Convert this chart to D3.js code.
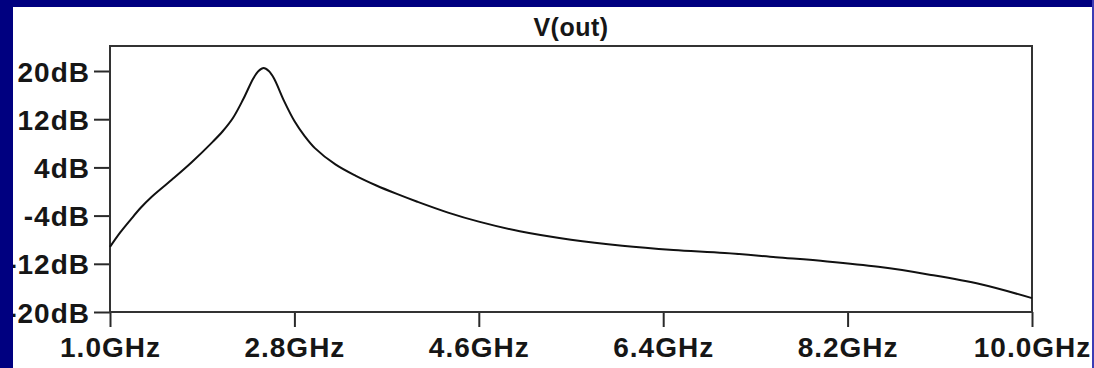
<!DOCTYPE html>
<html>
<head>
<meta charset="utf-8">
<script src="https://cdn.jsdelivr.net/npm/d3@7"></script>
<style>
  html, body { margin: 0; padding: 0; background: #000080; }
  svg { display: block; }
  text { font-family: "Liberation Sans", Arial, sans-serif; font-weight: bold; fill: #161616; }
</style>
</head>
<body>
<svg id="chart" width="1094" height="368"></svg>
<script>
// AC sweep of V(out): frequency in GHz, magnitude in dB
const freqGHz = [1.0, 1.1, 1.2, 1.3, 1.4, 1.6, 1.8, 2.0, 2.1, 2.2, 2.3, 2.4, 2.45, 2.5, 2.55, 2.6, 2.7, 2.8, 2.9, 3.0,
                 3.2, 3.4, 3.6, 3.8, 4.0, 4.3, 4.6, 5.0, 5.5, 6.0, 6.5, 7.0, 7.5, 8.0, 8.5, 9.0, 9.5, 10.0];
const magDb   = [-9.2, -6.8, -4.7, -2.7, -1.0, 1.9, 4.9, 8.2, 10.0, 12.2, 15.3, 18.8, 20.0, 20.5, 20.0, 18.8, 15.0, 11.7, 9.2, 7.2,
                 4.5, 2.6, 1.0, -0.4, -1.7, -3.5, -5.0, -6.6, -8.0, -9.0, -9.7, -10.2, -10.9, -11.6, -12.5, -13.8, -15.4, -17.7];

const xTickValues = [1.0, 2.8, 4.6, 6.4, 8.2, 10.0];
const xTickLabels = ["1.0GHz", "2.8GHz", "4.6GHz", "6.4GHz", "8.2GHz", "10.0GHz"];
const yTickValues = [20, 12, 4, -4, -12, -20];
const yTickLabels = ["20dB", "12dB", "4dB", "-4dB", "-12dB", "-20dB"];
const title = "V(out)";

const svg = d3.select("#chart");
const W = 1094, H = 368;

// window panel
svg.append("rect").attr("x", 0).attr("y", 0).attr("width", W).attr("height", H).attr("fill", "#000080");
svg.append("rect").attr("x", 13).attr("y", 7).attr("width", 1079).attr("height", H - 7).attr("fill", "#ffffff");

const plot = { left: 110, right: 1032, top: 46, bottom: 312 };

const x = d3.scaleLinear().domain([1.0, 10.0]).range([plot.left, plot.right]);
const y = d3.scaleLinear().domain([-20, 24.15]).range([plot.bottom, plot.top]);

// axes
const xAxis = d3.axisBottom(x)
  .tickValues(xTickValues)
  .tickFormat((d, i) => xTickLabels[i])
  .tickSize(15);
const yAxis = d3.axisLeft(y)
  .tickValues(yTickValues)
  .tickFormat((d, i) => yTickLabels[i])
  .tickSize(16).tickPadding(4);

const gx = svg.append("g").attr("transform", `translate(0,${plot.bottom})`).call(xAxis);
const gy = svg.append("g").attr("transform", `translate(${plot.left},0)`).call(yAxis);

[gx, gy].forEach(g => {
  g.select(".domain").remove();
  g.selectAll(".tick line").attr("stroke", "#2a2a2a").attr("stroke-width", 2);
  g.selectAll(".tick text")
    .attr("fill", "#161616")
    .style("font-family", '"Liberation Sans", Arial, sans-serif')
    .style("font-weight", "bold")
    .style("font-size", "28px")
    .style("letter-spacing", "1px");
});
gx.selectAll(".tick text").attr("dy", "0.71em").attr("y", 25);
gy.selectAll(".tick text").attr("dy", "0.36em");

// plot frame
svg.append("rect")
  .attr("x", plot.left).attr("y", plot.top)
  .attr("width", plot.right - plot.left).attr("height", plot.bottom - plot.top)
  .attr("fill", "none").attr("stroke", "#333333").attr("stroke-width", 2);

// trace
const points = freqGHz.map((f, i) => [f, magDb[i]]);
const line = d3.line()
  .x(d => x(d[0]))
  .y(d => y(d[1]))
  .curve(d3.curveCatmullRom.alpha(0.5));
svg.append("path")
  .datum(points)
  .attr("d", line)
  .attr("fill", "none")
  .attr("stroke", "#111111")
  .attr("stroke-width", 2);

// title
svg.append("text")
  .attr("x", (plot.left + plot.right) / 2)
  .attr("y", 36)
  .attr("text-anchor", "middle")
  .style("font-size", "25px")
  .style("letter-spacing", "0.5px")
  .text(title);

// window border drawn over anything that spills past the panel edge
svg.append("rect").attr("x", 0).attr("y", 0).attr("width", 13).attr("height", H).attr("fill", "#000080");
svg.append("rect").attr("x", 0).attr("y", 0).attr("width", W).attr("height", 7).attr("fill", "#000080");
svg.append("rect").attr("x", 1092).attr("y", 0).attr("width", 2).attr("height", H).attr("fill", "#3c3cb4");
</script>
</body>
</html>
